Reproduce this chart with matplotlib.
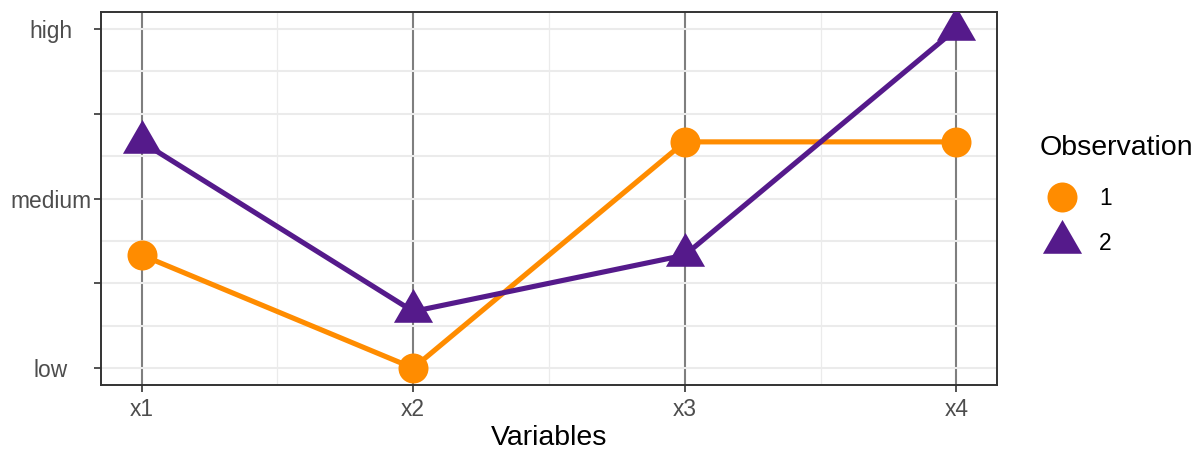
import matplotlib
matplotlib.use('Agg')
import matplotlib.pyplot as plt
from matplotlib.lines import Line2D
import numpy as np

plt.rcParams['font.family'] = ['Liberation Sans', 'DejaVu Sans']

# Data
variables = ['x1', 'x2', 'x3', 'x4']
obs_labels = ['1', '2']
obs1 = [0.333, 0.0, 0.667, 0.667]
obs2 = [0.667, 0.167, 0.333, 1.0]
y_ticks = [0, 0.25, 0.5, 0.75, 1]
y_labels = ['low', '', 'medium', '', 'high']

orange = '#FF8C00'
purple = '#551A8B'

# equilateral triangle centred on its centroid (like R's pch 17)
tri = [(0, 2 / 3), (-1 / np.sqrt(3), -1 / 3), (1 / np.sqrt(3), -1 / 3), (0, 2 / 3)]

fig = plt.figure(figsize=(11.96, 4.49), dpi=100)
ax = fig.add_axes([101 / 1196, 64 / 449, 896 / 1196, 373 / 449])

x = np.arange(1, len(variables) + 1)

# Lines then points
ax.plot(x, obs1, color=orange, lw=3.7, zorder=3, solid_capstyle='butt')
ax.plot(x, obs2, color=purple, lw=3.7, zorder=3, solid_capstyle='butt')
ax.plot(x, obs1, ls='none', marker='o', ms=21.6, color=orange, mec='none', zorder=4)
ax.plot(x, obs2, ls='none', marker=tri, ms=32.5, color=purple, mec='none', zorder=4)

# Axes
ax.set_xlim(0.85, 4.15)
ax.set_ylim(-0.05, 1.05)
ax.set_xticks(x)
ax.set_xticklabels(variables)
ax.set_xticks([1.5, 2.5, 3.5], minor=True)
ax.set_yticks(y_ticks)
ax.set_yticklabels(y_labels)
ax.set_yticks(np.arange(0.125, 1.0, 0.25), minor=True)

ax.grid(axis='x', which='major', color='#7F7F7F', lw=1.5, zorder=1)
ax.grid(axis='x', which='minor', color='#EBEBEB', lw=0.9, zorder=0)
ax.grid(axis='y', which='both', color='#EBEBEB', lw=1.5, zorder=0)
ax.set_axisbelow(True)

ax.tick_params(which='major', length=5, width=1.2, color='#333333',
               labelsize=16.4, labelcolor='#4D4D4D')
ax.tick_params(which='minor', length=0)
ax.tick_params(axis='x', pad=4)
ax.tick_params(axis='y', pad=31)
for lab in ax.get_yticklabels():
    lab.set_horizontalalignment('center')

for sp in ax.spines.values():
    sp.set_color('#333333')
    sp.set_linewidth(1.4)

ax.set_xlabel('Variables', fontsize=20.5, labelpad=3)

# Legend
handles = [
    Line2D([], [], ls='none', marker='o', ms=21.6, color=orange, mec='none'),
    Line2D([], [], ls='none', marker=tri, ms=32.5, color=purple, mec='none'),
]
leg = ax.legend(handles, obs_labels, title='Observation', loc='upper left',
                bbox_to_anchor=(1040 / 1196, 1 - 135 / 449), bbox_transform=fig.transFigure,
                frameon=False, alignment='left', borderpad=0, borderaxespad=0,
                fontsize=16.4, title_fontsize=20.5, handlelength=1.9,
                handletextpad=0.7, labelspacing=0.95)
# a bit more room between the title and the keys
leg._legend_box.sep = 19

fig.savefig('out.png', dpi=100)
